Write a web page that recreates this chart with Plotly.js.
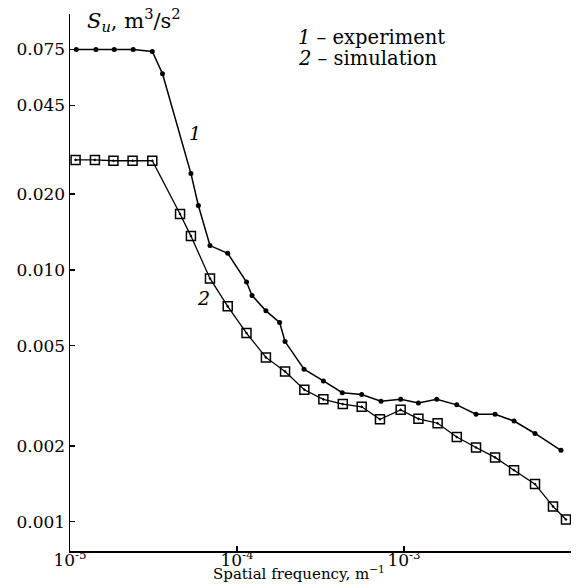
<!DOCTYPE html>
<html>
<head>
<meta charset="utf-8">
<script src="https://cdn.plot.ly/plotly-3.0.1.min.js"></script>
<style>html,body{margin:0;padding:0;background:#fff;}#chart{width:582px;height:586px;}</style>
</head>
<body>
<div id="chart"></div>
<script>
// Spatial frequency (1/m) and spectra S_u (m^3/s^2)
const expFreq = [1.09e-5, 1.43e-5, 1.84e-5, 2.39e-5, 3.11e-5, 3.58e-5, 5.30e-5, 5.87e-5, 6.89e-5, 8.80e-5,
  1.14e-4, 1.23e-4, 1.49e-4, 1.80e-4, 1.94e-4, 2.52e-4, 3.29e-4, 4.27e-4, 5.58e-4, 7.28e-4,
  9.55e-4, 1.22e-3, 1.57e-3, 2.07e-3, 2.70e-3, 3.51e-3, 4.56e-3, 6.09e-3, 8.71e-3];
const expS = [0.0750, 0.0750, 0.0750, 0.0750, 0.0736, 0.0600, 0.0241, 0.0180, 0.01248, 0.01163,
  0.00894, 0.00791, 0.00687, 0.00618, 0.00519, 0.00403, 0.00362, 0.00325, 0.00320, 0.00301,
  0.00306, 0.00296, 0.00306, 0.00291, 0.00267, 0.00267, 0.00251, 0.00224, 0.00192];

const simFreq = [1.08e-5, 1.41e-5, 1.82e-5, 2.37e-5, 3.11e-5, 4.56e-5, 5.30e-5, 6.89e-5, 8.80e-5, 1.14e-4,
  1.49e-4, 1.94e-4, 2.53e-4, 3.29e-4, 4.30e-4, 5.58e-4, 7.18e-4, 9.55e-4, 1.22e-3, 1.59e-3,
  2.07e-3, 2.70e-3, 3.51e-3, 4.56e-3, 6.09e-3, 7.80e-3, 9.33e-3];
const simS = [0.0273, 0.0273, 0.0271, 0.0271, 0.0271, 0.01665, 0.01361, 0.00924, 0.00716, 0.00561,
  0.00449, 0.00395, 0.00334, 0.00306, 0.00293, 0.00286, 0.00255, 0.00278, 0.00256, 0.00246,
  0.00217, 0.00197, 0.00180, 0.00160, 0.00141, 0.00115, 0.00102];

const yTickVals = [0.001, 0.002, 0.005, 0.010, 0.020, 0.045, 0.075];
const yTickText = ['0.001', '0.002', '0.005', '0.010', '0.020', '0.045', '0.075'];
const xTickVals = [1e-5, 1e-4, 1e-3, 1e-2];
const xTickText = ['10<sup>-5</sup>', '10<sup>-4</sup>', '10<sup>-3</sup>', '10<sup>-2</sup>'];

const serif = 'DejaVu Serif, Liberation Serif, serif';

const traces = [
  {
    x: expFreq, y: expS, type: 'scatter', mode: 'lines+markers', name: 'experiment',
    line: {color: '#000', width: 1.5},
    marker: {symbol: 'circle', size: 5, color: '#000'}
  },
  {
    x: simFreq, y: simS, type: 'scatter', mode: 'lines+markers', name: 'simulation',
    line: {color: '#000', width: 1.3},
    marker: {symbol: 'square-open-dot', size: 9, color: '#000', line: {width: 1.5, color: '#000'}}
  }
];

const layout = {
  width: 582, height: 586,
  margin: {l: 70, r: 11, t: 14, b: 35},
  paper_bgcolor: '#fff', plot_bgcolor: '#fff',
  showlegend: false,
  font: {family: serif, color: '#000', size: 16},
  xaxis: {
    type: 'log', range: [-5, -2.0], automargin: false,
    tickvals: xTickVals, ticktext: xTickText,
    ticks: 'inside', ticklen: 5, tickwidth: 1.5, tickcolor: '#000',
    ticklabelstandoff: -7,
    showline: true, linecolor: '#000', linewidth: 1.5,
    showgrid: false, zeroline: false, mirror: false,
    tickfont: {family: serif, size: 17, color: '#000'}
  },
  yaxis: {
    type: 'log', range: [-3.1163, -0.9845], automargin: false,
    tickvals: yTickVals, ticktext: yTickText,
    ticks: 'inside', ticklen: 5, tickwidth: 1.5, tickcolor: '#000',
    showline: true, linecolor: '#000', linewidth: 1.5,
    showgrid: false, zeroline: false, mirror: false,
    tickfont: {family: serif, size: 17, color: '#000'}
  },
  annotations: [
    {xref: 'paper', yref: 'paper', x: 0.458, y: 0, yshift: -34, xanchor: 'center', yanchor: 'bottom', showarrow: false,
     text: 'Spatial frequency, m<sup>\u22121</sup>', font: {family: serif, size: 15, color: '#000'}},
    {xref: 'paper', yref: 'paper', x: 0.03, y: 0.989, xanchor: 'left', yanchor: 'middle', showarrow: false,
     text: '<i>S<sub>u</sub></i>, m<sup>3</sup>/s<sup>2</sup>', font: {family: serif, size: 21, color: '#000'}},
    {xref: 'paper', yref: 'paper', x: 0.451, y: 0.957, xanchor: 'left', yanchor: 'middle', showarrow: false,
     text: '<i>1</i> \u2013 experiment', font: {family: serif, size: 19.5, color: '#000'}},
    {xref: 'paper', yref: 'paper', x: 0.451, y: 0.917, xanchor: 'left', yanchor: 'middle', showarrow: false,
     text: '<i>2</i> \u2013 simulation', font: {family: serif, size: 19.5, color: '#000'}},
    {xref: 'paper', yref: 'paper', x: 0.2335, y: 0.803, showarrow: false,
     text: '<i>1</i>', font: {family: serif, size: 19, color: '#000'}},
    {xref: 'paper', yref: 'paper', x: 0.249, y: 0.471, showarrow: false,
     text: '<i>2</i>', font: {family: serif, size: 19, color: '#000'}}
  ]
};

Plotly.newPlot('chart', traces, layout, {displayModeBar: false, staticPlot: true});
</script>
</body>
</html>
